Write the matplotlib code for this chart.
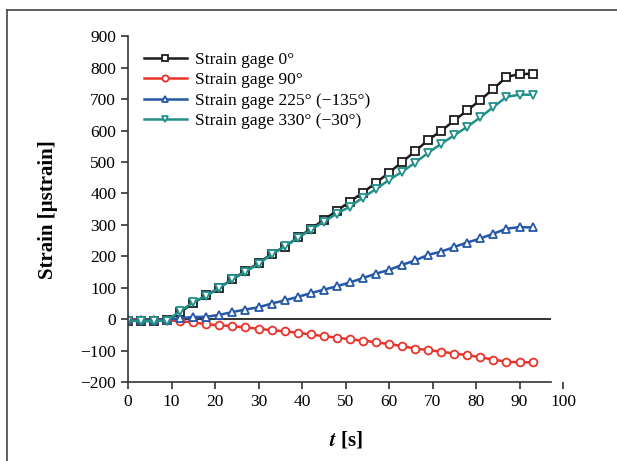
import numpy as np
import matplotlib.pyplot as plt
from matplotlib.lines import Line2D

plt.rcParams['font.family'] = ['Liberation Serif', 'DejaVu Serif']
plt.rcParams['mathtext.fontset'] = 'stix'
plt.rcParams['axes.unicode_minus'] = True

# time in seconds (sampling every 3 s)
t = [0, 3, 6, 9, 12, 15, 18, 21, 24, 27, 30, 33, 36, 39, 42, 45,
     48, 51, 54, 57, 60, 63, 66, 69, 72, 75, 78, 81, 84, 87, 90, 93]

gage_0 = [-4, -5, -5, -3, 22, 52, 76, 100, 128, 153, 178, 208, 230, 260, 287, 316,
          345, 374, 403, 434, 466, 500, 534, 570, 599, 632, 664, 697, 733, 770, 780, 780]
gage_90 = [-1, -2, -2, -3, -6, -10, -16, -19, -22, -26, -30, -35, -38, -43, -48, -54,
           -58, -64, -68, -73, -79, -85, -93, -98, -103, -109, -114, -121, -128, -135, -137, -137]
gage_225 = [-3, -3, -3, -2, 4, 7, 8, 14, 23, 31, 38, 50, 60, 71, 83, 94,
            105, 117, 131, 145, 157, 173, 187, 205, 215, 230, 244, 257, 272, 288, 293, 292]
gage_330 = [-5, -6, -6, -4, 26, 54, 74, 100, 127, 151, 176, 206, 232, 258, 284, 310,
            336, 358, 387, 414, 443, 469, 498, 529, 558, 585, 612, 642, 675, 707, 714, 714]

labels = ['Strain gage 0°', 'Strain gage 90°',
          'Strain gage 225° (−135°)', 'Strain gage 330° (−30°)']

fig = plt.figure(figsize=(6.17, 4.61), dpi=100)
ax = fig.add_axes([0.2075, 0.171, 0.705, 0.7505])

ax.hlines(0, 0, 97.3, color='#222222', linewidth=1.3, zorder=1)

style = dict(linewidth=1.8, markersize=5.6, markerfacecolor='white', markeredgewidth=1.3)
ax.plot(t, gage_0, color='#1c1c1c', marker='s', label=labels[0], **style)
ax.plot(t, gage_90, color='#e8332b', marker='o', label=labels[1], **style)
ax.plot(t, gage_225, color='#2457a8', marker='^', label=labels[2], **style)
ax.plot(t, gage_330, color='#21908a', marker='v', label=labels[3], **style)

ax.set_xlim(0, 100)
ax.set_ylim(-200, 900)
ax.set_xticks(np.arange(0, 101, 10))
ax.set_yticks(np.arange(-200, 901, 100))
ax.spines['top'].set_visible(False)
ax.spines['right'].set_visible(False)
ax.spines['bottom'].set_bounds(0, 97.3)
for s in ['left', 'bottom']:
    ax.spines[s].set_color('#333333')
    ax.spines[s].set_linewidth(1.2)
ax.tick_params(direction='out', length=5, width=1.2, color='#333333', labelsize=12.5)

ax.set_ylabel('Strain [μstrain]', fontsize=15, fontweight='bold', labelpad=16)
ax.set_xlabel(r'$\boldsymbol{t}$ [s]', fontsize=15, fontweight='bold', labelpad=14)

ax.legend(loc='upper left', bbox_to_anchor=(0.0, 1.0), frameon=False, fontsize=12.5,
          handlelength=2.5, handletextpad=0.45, labelspacing=0.25, borderaxespad=0.5,
          markerscale=0.8)

# frame lines of the original panel
fig.add_artist(Line2D([7 / 617, 7 / 617], [0, 1 - 10 / 461], color='#444444', linewidth=1.2))
fig.add_artist(Line2D([7 / 617, 1], [1 - 10 / 461, 1 - 10 / 461], color='#444444', linewidth=1.2))

fig.savefig('out.png', dpi=100)
